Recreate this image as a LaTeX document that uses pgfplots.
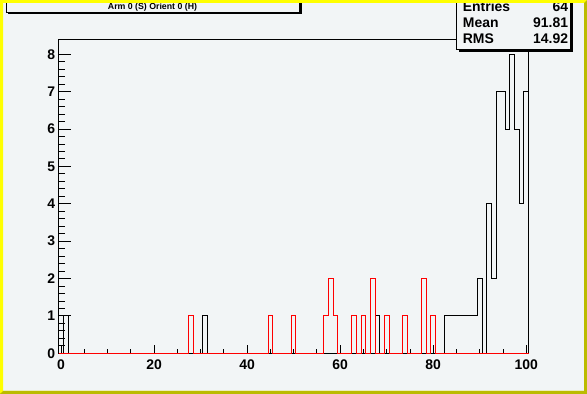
\documentclass[border=0pt]{standalone}
\usepackage{pgfplots}
\pgfplotsset{compat=1.18}
\usepackage{pgfplotstable}
\usepackage{fontspec}
\setmainfont{Liberation Sans}
\definecolor{padbg}{RGB}{242,245,246}
\definecolor{ylight}{RGB}{255,255,0}
\definecolor{ydark}{RGB}{187,187,0}
\definecolor{hred}{RGB}{255,0,0}

% bin left edge, count (histogram steps)
\pgfplotstableread{
x y
-0.5 0
0.5 1
1.5 0
30.5 1
31.5 0
67.5 1
68.5 0
79.5 1
80.5 0
82.5 1
89.5 2
90.5 0
91.5 4
92.5 2
93.5 7
95.5 6
96.5 8
97.5 6
98.5 4
99.5 7
100.5 7
}\blackhist

\pgfplotstableread{
x y
-0.5 0
27.5 1
28.5 0
44.5 1
45.5 0
49.5 1
50.5 0
56.5 1
57.5 2
58.5 1
59.5 0
62.5 1
63.5 0
64.5 1
65.5 0
66.5 2
67.5 0
69.5 1
70.5 0
73.5 1
74.5 0
77.5 2
78.5 0
79.5 1
80.5 0
100.5 0
}\redhist

\begin{document}
\begin{tikzpicture}
\useasboundingbox (0,0) rectangle (587bp,394bp);
\fill[padbg] (0,0) rectangle (587bp,394bp);
\begin{axis}[
  at={(58.7bp,40.7bp)}, anchor=south west,
  scale only axis, width=469.9bp, height=314bp,
  xmin=-0.5, xmax=100.5, ymin=0, ymax=8.4,
  clip=false,
  axis background/.style={fill=padbg},
  axis line style={black, line width=1bp},
  xtick={0,20,40,60,80,100},
  ytick={0,1,2,3,4,5,6,7,8},
  minor x tick num=3,
  minor y tick num=4,
  tick align=inside,
  xtick pos=left, ytick pos=left,
  tick style={black, line width=0.9bp},
  major tick length=12.7bp, minor tick length=6.3bp,
  xtick style={/pgfplots/major tick length=8.3bp, /pgfplots/minor tick length=4.3bp},
  /pgf/number format/assume math mode=true,
  xticklabel style={font=\bfseries\fontsize{14}{14}\selectfont, yshift=-3bp},
  yticklabel style={font=\bfseries\fontsize{14}{14}\selectfont},
]
\addplot[const plot, black, line width=1bp, mark=none] table[x=x,y=y] {\blackhist};
\addplot[const plot, hred, line width=1bp, mark=none] table[x=x,y=y] {\redhist};
\end{axis}
% title box
\fill[black] (8bp,379.5bp) rectangle (301.5bp,396bp);
\filldraw[fill=padbg, draw=black, line width=1bp] (6bp,381.5bp) rectangle (299.5bp,396bp);
\node[font=\bfseries\fontsize{8.8}{10}\selectfont, inner sep=0pt] at (152.5bp,386.5bp) {Arm 0 (S) Orient 0 (H)};
% stats box
\fill[black] (458.7bp,342bp) rectangle (572.5bp,396bp);
\filldraw[fill=padbg, draw=black, line width=1bp] (456.7bp,344bp) rectangle (570.5bp,396bp);
\begin{scope}[every node/.style={font=\bfseries\fontsize{14}{14}\selectfont, inner sep=0pt}]
\node[anchor=base west] at (462.7bp,382bp) {Entries};
\node[anchor=base east] at (568.3bp,382bp) {64};
\node[anchor=base west] at (462.7bp,366bp) {Mean};
\node[anchor=base east] at (568.3bp,366bp) {91.81};
\node[anchor=base west] at (462.7bp,350bp) {RMS};
\node[anchor=base east] at (568.3bp,350bp) {14.92};
\end{scope}
% canvas border
\fill[ylight, even odd rule] (0,0) rectangle (587bp,394bp) (3bp,3bp) rectangle (584bp,391bp);
\fill[ydark] (0,0) -- (587bp,0) -- (587bp,394bp) -- (584bp,391bp) -- (584bp,3bp) -- (3bp,3bp) -- cycle;
\end{tikzpicture}
\end{document}
